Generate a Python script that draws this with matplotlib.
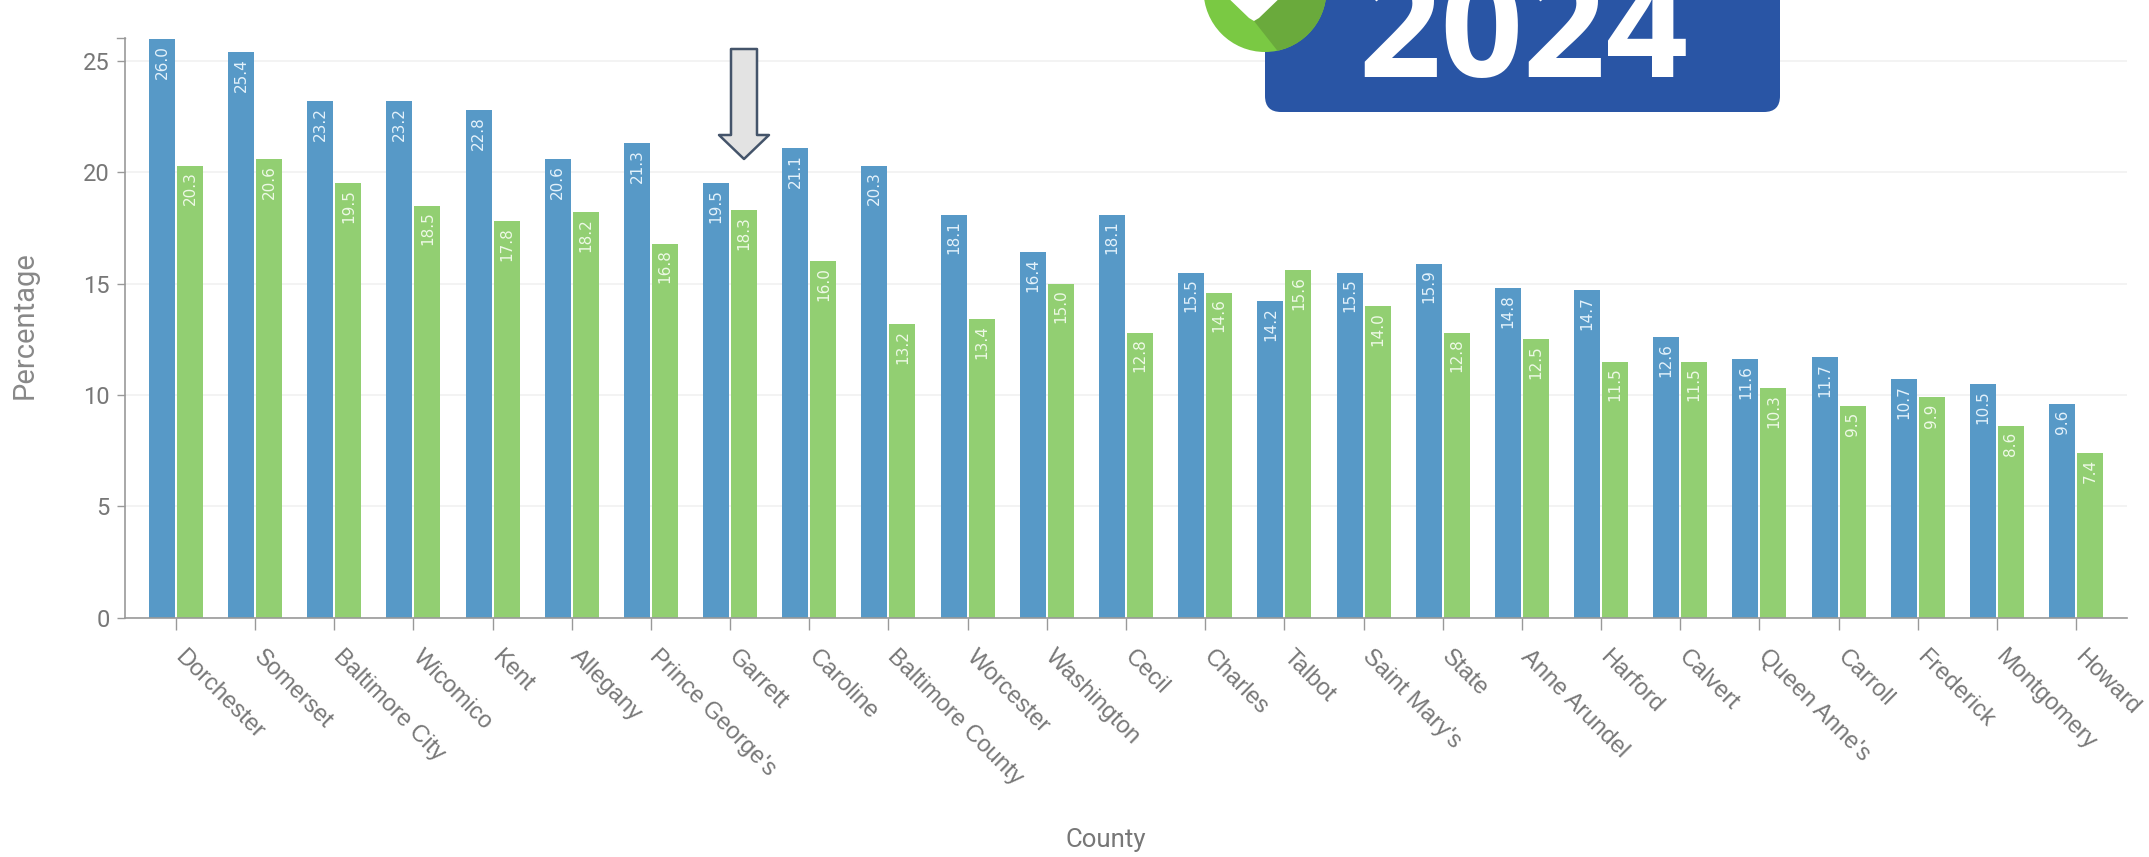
"""Maryland county percentages, two years side by side, with the 2024 badge on top."""

from __future__ import annotations

import matplotlib

matplotlib.use("Agg")
import matplotlib.pyplot as plt
import numpy as np
from matplotlib.patches import Ellipse, FancyBboxPatch, Polygon

COUNTIES = [
    "Dorchester", "Somerset", "Baltimore City", "Wicomico", "Kent", "Allegany",
    "Prince George's", "Garrett", "Caroline", "Baltimore County", "Worcester",
    "Washington", "Cecil", "Charles", "Talbot", "Saint Mary's", "State",
    "Anne Arundel", "Harford", "Calvert", "Queen Anne's", "Carroll", "Frederick",
    "Montgomery", "Howard",
]
BLUE_VALUES = [
    26.0, 25.4, 23.2, 23.2, 22.8, 20.6, 21.3, 19.5, 21.1, 20.3, 18.1, 16.4, 18.1,
    15.5, 14.2, 15.5, 15.9, 14.8, 14.7, 12.6, 11.6, 11.7, 10.7, 10.5, 9.6,
]
GREEN_VALUES = [
    20.3, 20.6, 19.5, 18.5, 17.8, 18.2, 16.8, 18.3, 16.0, 13.2, 13.4, 15.0, 12.8,
    14.6, 15.6, 14.0, 12.8, 12.5, 11.5, 11.5, 10.3, 9.5, 9.9, 8.6, 7.4,
]
Y_TICKS = [0, 5, 10, 15, 20, 25]

W, H = 2149, 857
BLUE = "#5799c7"
GREEN = "#92cf72"
TEXT = "#777777"


def draw_chart(fig):
    ax = fig.add_axes([125 / W, (H - 617.7) / H, 2002 / W, 579.7 / H])
    x = np.arange(len(COUNTIES))
    width = 26 / 79.17
    shift = 14 / 79.17
    ax.bar(x - shift, BLUE_VALUES, width, color=BLUE, zorder=2)
    ax.bar(x + shift, GREEN_VALUES, width, color=GREEN, zorder=2)
    for i, (b, g) in enumerate(zip(BLUE_VALUES, GREEN_VALUES)):
        for pos, val, col in ((i - shift, b, "#e4f2fb"), (i + shift, g, "#eef9e6")):
            ax.annotate(
                f"{val:.1f}", (pos, val), xytext=(0, -6), textcoords="offset pixels",
                rotation=90, ha="center", va="top", color=col,
                family="DejaVu Sans", fontsize=11, zorder=3,
            )

    ax.set_xlim(-0.644, len(COUNTIES) - 1 + 0.644)
    ax.set_ylim(0, 26.03)
    ax.set_yticks(Y_TICKS)
    ax.set_xticks(x)
    ax.set_xticklabels([])
    # labels sit a little right of their ticks, so they are placed by hand
    for i, name in enumerate(COUNTIES):
        ax.annotate(
            name, (i, 0), xycoords=("data", "axes fraction"), xytext=(10, -28),
            textcoords="offset pixels", rotation=-45, ha="left", va="top",
            rotation_mode="anchor", family="Liberation Sans", fontsize=17,
            color=TEXT, annotation_clip=False,
        )
    ax.tick_params(axis="x", length=8.5, width=1, color="#999999")
    ax.tick_params(axis="y", length=6, width=1, color="#999999", pad=5,
                   labelsize=17, labelcolor=TEXT)
    for lab in ax.get_yticklabels():
        lab.set_family("Roboto")
    ax.grid(axis="y", color="#f1f1f1", lw=1.2, zorder=0)
    ax.set_axisbelow(True)
    for side in ("top", "right"):
        ax.spines[side].set_visible(False)
    for side in ("left", "bottom"):
        ax.spines[side].set_color("#999999")
        ax.spines[side].set_linewidth(1.2)
    ax.plot([-0.004, 0], [1, 1], transform=ax.transAxes, color="#999999", lw=1, clip_on=False)

    fig.text(25 / W, 1 - 325 / H, "Percentage", rotation=90, ha="center", va="center",
             family="Roboto", fontsize=21, color="#888888")
    fig.text(1106 / W, 1 - 840 / H, "County", ha="center", va="center",
             family="Roboto", fontsize=18.5, color=TEXT)


def draw_overlay(fig):
    # pixel coordinates for the pasted-on arrow and badge
    ov = fig.add_axes([0, 0, 1, 1], facecolor="none")
    ov.set_xlim(0, W)
    ov.set_ylim(H, 0)
    ov.axis("off")

    arrow = [(731, 49), (757, 49), (757, 135), (769, 135), (744, 159), (719, 135), (731, 135)]
    ov.add_patch(Polygon(arrow, closed=True, fc="#e3e3e3", ec="#44546a", lw=1.8, joinstyle="round"))

    ov.add_patch(FancyBboxPatch((1281, -40), 483, 136, boxstyle="round,pad=16,rounding_size=16",
                                fc="#2955a5", ec="none"))
    ov.text(1524, 77, "2024", ha="center", va="baseline", color="white",
            family="Open Sans", fontweight="bold", fontsize=104)

    circle = Ellipse((1265, -10), 123, 124, fc="#7ac943", ec="none", zorder=4)
    ov.add_patch(circle)
    dark = Polygon([(1254, 21), (1280, 54), (1340, 54), (1340, -30), (1285, -30)], closed=True,
                   fc="#6aaa3c", ec="none", zorder=5)
    ov.add_patch(dark)
    dark.set_clip_path(circle)
    ov.add_patch(Polygon([(1222, -8), (1249, 18), (1254, 21), (1259, 18), (1286, -8)], closed=True,
                         fc="white", ec="none", zorder=6))


def main() -> None:
    fig = plt.figure(figsize=(W / 100, H / 100), dpi=100, facecolor="white")
    draw_chart(fig)
    draw_overlay(fig)
    fig.savefig("out.png", dpi=100)
    plt.close(fig)


if __name__ == "__main__":
    main()
